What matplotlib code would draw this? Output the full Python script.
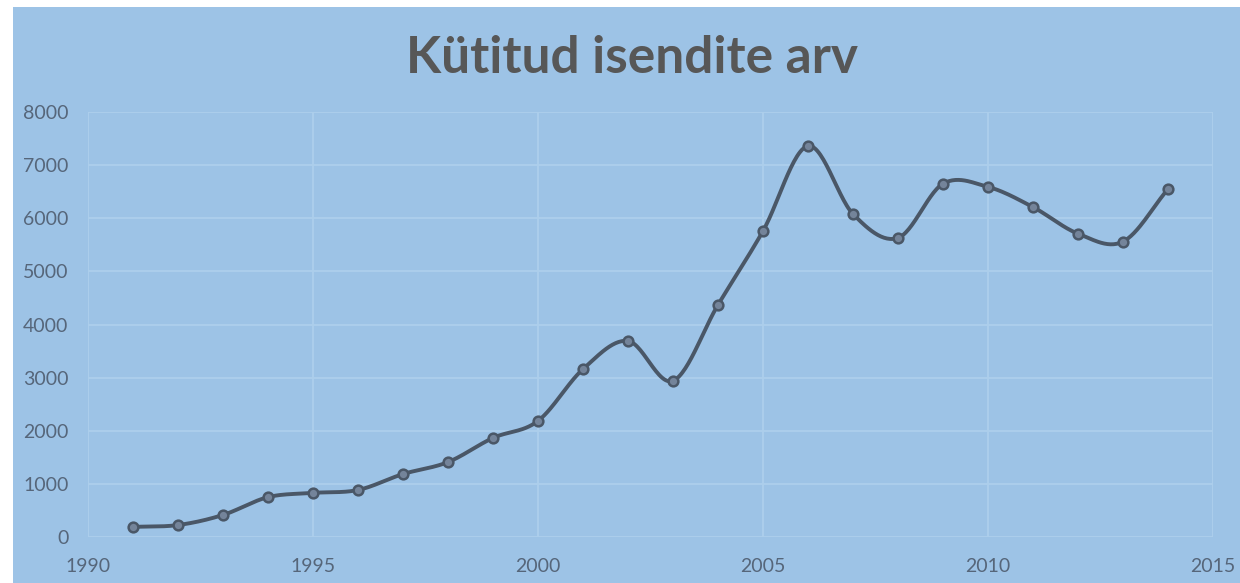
import numpy as np
import matplotlib
matplotlib.use("Agg")
import matplotlib.pyplot as plt
from matplotlib.patches import Rectangle

# --------------------------------
# Data
# --------------------------------
years = [1991, 1992, 1993, 1994, 1995, 1996, 1997, 1998, 1999, 2000,
         2001, 2002, 2003, 2004, 2005, 2006, 2007, 2008, 2009, 2010,
         2011, 2012, 2013, 2014]
counts = [190, 225, 415, 750, 830, 885, 1185, 1410, 1865, 2185,
          3160, 3690, 2940, 4370, 5760, 7360, 6080, 5630, 6650, 6590,
          6210, 5710, 5560, 6550]

title = "Kütitud isendite arv"
x_ticks = [1990, 1995, 2000, 2005, 2010, 2015]
y_ticks = [0, 1000, 2000, 3000, 4000, 5000, 6000, 7000, 8000]

bg = "#9DC3E6"
grid_col = "#ADCFEC"
line_col = "#4A5767"
text_col = "#56667A"


# smoothed line like Excel (Catmull-Rom through the points)
def smooth(x, y, n=30):
    x = np.asarray(x, float)
    y = np.asarray(y, float)
    px = np.concatenate([[2 * x[0] - x[1]], x, [2 * x[-1] - x[-2]]])
    py = np.concatenate([[2 * y[0] - y[1]], y, [2 * y[-1] - y[-2]]])
    t = np.linspace(0, 1, n)
    xs, ys = [], []
    for i in range(1, len(px) - 2):
        for p, out in ((px, xs), (py, ys)):
            p0, p1, p2, p3 = p[i - 1], p[i], p[i + 1], p[i + 2]
            out.extend(0.5 * (2 * p1 + (-p0 + p2) * t
                              + (2 * p0 - 5 * p1 + 4 * p2 - p3) * t ** 2
                              + (-p0 + 3 * p1 - 3 * p2 + p3) * t ** 3))
    return np.array(xs), np.array(ys)


# --------------------------------
# Plot
# --------------------------------
plt.rcParams['font.family'] = ['Lato', 'DejaVu Sans']

fig = plt.figure(figsize=(12.4, 5.83), dpi=100, facecolor="white")
fig.patches.append(Rectangle((13 / 1240, 0), 1, 1 - 7 / 583,
                             transform=fig.transFigure, facecolor=bg,
                             edgecolor="none", zorder=-10))

ax = fig.add_axes([88 / 1240, 1 - 537 / 583, (1213 - 88) / 1240, (537 - 112) / 583])
ax.set_zorder(1)
ax.set_facecolor(bg)
ax.patch.set_alpha(0)

sx, sy = smooth(years, counts)
ax.plot(sx, sy, color=line_col, lw=2.8, solid_capstyle="round", zorder=3)
ax.plot(years, counts, linestyle="none", marker="o", markersize=7,
        markerfacecolor="#74849A", markeredgecolor=line_col,
        markeredgewidth=1.8, zorder=4)

ax.set_xlim(1990, 2015)
ax.set_ylim(0, 8000)
ax.set_xticks(x_ticks)
ax.set_yticks(y_ticks)
ax.grid(True, color=grid_col, lw=1.3)
ax.set_axisbelow(True)
for s in ax.spines.values():
    s.set_visible(False)
ax.tick_params(length=0, labelsize=14, labelcolor=text_col)
ax.tick_params(axis="x", pad=15)
ax.tick_params(axis="y", pad=14)

fig.text(0.51, 0.9, title, ha="center", va="center", fontsize=37,
         fontweight="bold", color="#575757", zorder=2)

fig.savefig("out.png", dpi=100, facecolor=fig.get_facecolor())
